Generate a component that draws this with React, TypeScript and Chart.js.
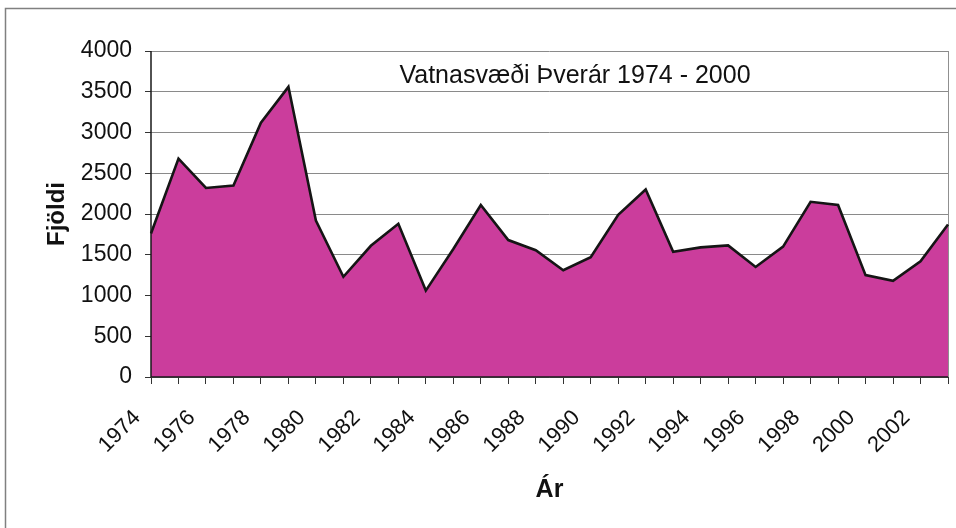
import React, { useEffect, useRef } from 'react';
import { Chart, registerables } from 'chart.js';

Chart.register(...registerables);

const years: string[] = [
  '1974', '1975', '1976', '1977', '1978', '1979', '1980', '1981', '1982', '1983',
  '1984', '1985', '1986', '1987', '1988', '1989', '1990', '1991', '1992', '1993',
  '1994', '1995', '1996', '1997', '1998', '1999', '2000', '2001', '2002', '2003',
];

const counts: number[] = [
  1760, 2680, 2320, 2350, 3120, 3560, 1920, 1230, 1610, 1880,
  1060, 1570, 2110, 1680, 1555, 1310, 1470, 1990, 2300, 1535,
  1590, 1615, 1350, 1600, 2150, 2110, 1250, 1180, 1420, 1870,
];

const yMin = 0;
const yMax = 4000;
const yStep = 500;

const chartTitle = 'Vatnasvæði Þverár 1974 - 2000';
const yTitle = 'Fjöldi';
const xTitle = 'Ár';

const FONT = '"Liberation Sans", Arial, sans-serif';

const decor = {
  id: 'decor',
  beforeDraw(chart: any) {
    const { ctx } = chart;
    ctx.save();
    ctx.fillStyle = '#ffffff';
    ctx.fillRect(0, 0, chart.width, chart.height);
    ctx.strokeStyle = '#808080';
    ctx.lineWidth = 1.5;
    ctx.beginPath();
    ctx.moveTo(5.5, chart.height);
    ctx.lineTo(5.5, 8.5);
    ctx.lineTo(chart.width, 8.5);
    ctx.stroke();
    ctx.restore();
  },
  afterDatasetsDraw(chart: any) {
    const { ctx, chartArea } = chart;
    const { left, right, top, bottom } = chartArea;
    ctx.save();
    ctx.strokeStyle = '#1a1a1a';
    ctx.lineWidth = 1.5;
    ctx.beginPath();
    ctx.moveTo(left, top);
    ctx.lineTo(left, bottom);
    ctx.lineTo(right, bottom);
    ctx.stroke();
    ctx.fillStyle = '#111111';
    ctx.font = `25px ${FONT}`;
    ctx.textAlign = 'center';
    ctx.textBaseline = 'middle';
    ctx.fillText(chartTitle, left + (right - left) * 0.532, top + 25);
    ctx.restore();
  },
};

export default function App() {
  const ref = useRef<HTMLCanvasElement | null>(null);

  useEffect(() => {
    if (!ref.current) return;
    const chart = new Chart(ref.current, {
      type: 'line',
      data: {
        labels: years,
        datasets: [
          {
            data: counts,
            fill: 'origin',
            backgroundColor: '#cb3d9c',
            borderColor: '#151515',
            borderWidth: 2.6,
            pointRadius: 0,
            tension: 0,
          },
        ],
      },
      options: {
        animation: false,
        responsive: false,
        devicePixelRatio: 1,
        layout: { padding: { left: 0, top: 51, right: 8, bottom: 0 } },
        plugins: {
          legend: { display: false },
          title: { display: false },
          tooltip: { enabled: false },
        },
        scales: {
          x: {
            type: 'category',
            offset: false,
            afterFit(scale: any) {
              scale.height = 151;
              scale.paddingLeft = 0;
              scale.paddingRight = 0;
            },
            grid: {
              drawOnChartArea: true,
              color: (c: any) => (c.index === years.length - 1 ? '#909090' : 'rgba(0,0,0,0)'),
              tickColor: '#333333',
              tickLength: 7,
              lineWidth: 1,
            },
            border: { display: false },
            ticks: {
              autoSkip: false,
              minRotation: 45,
              maxRotation: 45,
              padding: 21,
              labelOffset: -14,
              color: '#111111',
              font: { family: FONT, size: 22 },
              callback: (_v: any, i: number) => (i % 2 === 0 ? years[i] : ''),
            },
            title: {
              display: true,
              text: xTitle,
              color: '#111111',
              font: { family: FONT, size: 25, weight: 'bold' },
              padding: { top: 0, bottom: 23 },
            },
          },
          y: {
            min: yMin,
            max: yMax,
            afterFit(scale: any) {
              scale.width = 151;
            },
            grid: {
              color: '#8a8a8a',
              lineWidth: 1,
              tickLength: 6,
              tickColor: '#333333',
            },
            border: { display: false },
            ticks: {
              stepSize: yStep,
              padding: 13,
              color: '#111111',
              font: { family: FONT, size: 23 },
              callback: (v: any) => String(v),
            },
            title: {
              display: true,
              text: yTitle,
              color: '#111111',
              font: { family: FONT, size: 24, weight: 'bold' },
              padding: { top: 43, bottom: 0 },
            },
          },
        },
      },
      plugins: [decor],
    });
    return () => chart.destroy();
  }, []);

  return (
    <div style={{ position: 'fixed', left: 0, top: 0, width: 956, height: 528, background: '#fff' }}>
      <canvas ref={ref} width={956} height={528} />
    </div>
  );
}
